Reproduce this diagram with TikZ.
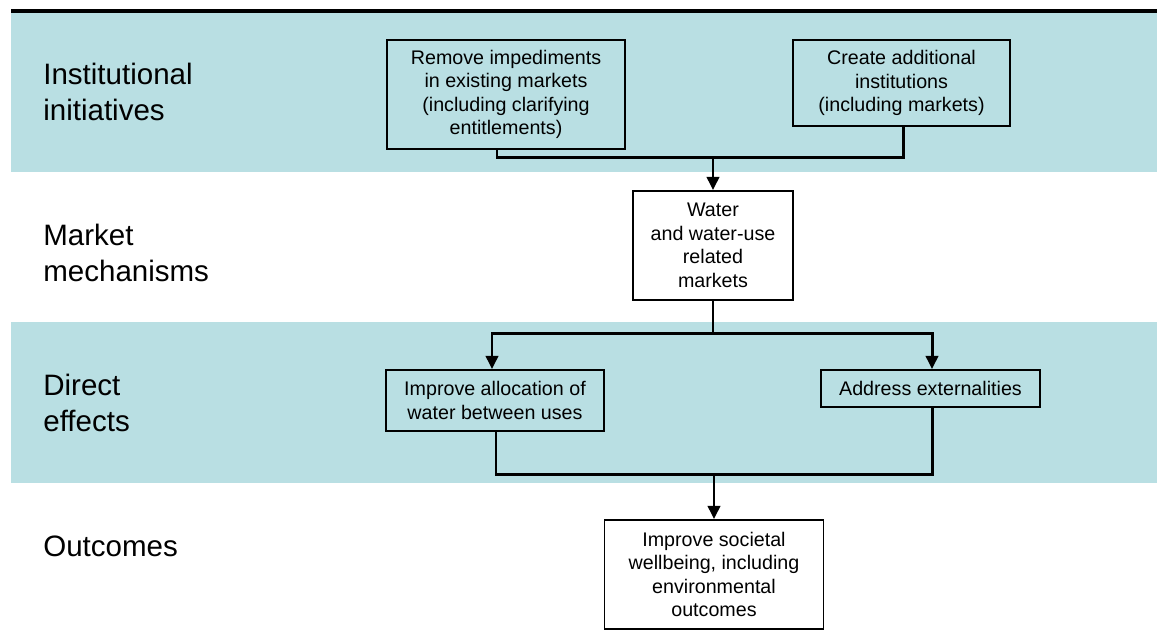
\documentclass[tikz,border=0pt]{standalone}
\usepackage{fontspec}
\setmainfont{Liberation Sans}
\usetikzlibrary{arrows.meta,positioning}
\definecolor{band}{RGB}{185,223,227}
\tikzset{
	box/.style={draw,line width=1.1pt,rectangle,align=center,fill=white,inner sep=2pt,font=\fontsize{11.2}{13.4}\selectfont},
	tier/.style={anchor=west,align=left,inner sep=0pt,font=\fontsize{16.8}{20}\selectfont},
	link/.style={line width=1.7pt},
	-tri/.style={line width=1.7pt,-{Triangle[length=7.5pt,width=7pt]}}
}
\begin{document}
\begin{tikzpicture}[x=0.02cm,y=-0.02cm]
	\useasboundingbox (0,0) rectangle (1157,637);
	\fill[band] (11,12) rectangle (1157,172);
	\fill[band] (11,322) rectangle (1157,483);
	\draw[line width=1.8pt] (11,11) -- (1157,11);
	\node[tier] (inst) at (43,92) {Institutional\\initiatives};
	\node[tier] (mech) at (43,253) {Market\\mechanisms};
	\node[tier] (dir) at (43,403) {Direct\\effects};
	\node[tier] (outc) at (43,546) {Outcomes};
	\node[box,minimum width=4.76cm,minimum height=2.18cm,fill=band] (remove) at (506,94.5) {Remove impediments\\in existing markets\\(including clarifying\\entitlements)};
	\node[box,minimum width=4.34cm,minimum height=1.72cm,fill=band] (create) at (901.5,83) {Create additional\\institutions\\(including markets)};
	\node[box,minimum width=3.2cm,minimum height=2.18cm] (water) at (713,245.5) {Water\\and water-use\\related\\markets};
	\node[box,minimum width=4.36cm,minimum height=1.22cm,fill=band] (alloc) at (495,400.5) {Improve allocation of\\water between uses};
	\node[box,minimum width=4.38cm,minimum height=0.74cm,fill=band] (ext) at (930.5,388.5) {Address externalities};
	\node[box,minimum width=4.38cm,minimum height=2.18cm] (well) at (714,574.5) {Improve societal\\wellbeing, including\\environmental\\outcomes};
	\coordinate (j1) at (713,157);
	\coordinate (j2) at (713,333);
	\coordinate (j3) at (714,474);
	\draw[link] (remove.south -| 497,0) |- (j1);
	\draw[link] (create.south -| 903,0) |- (j1);
	\draw[-tri] (j1) -- (water);
	\draw[link] (water) -- (j2);
	\draw[-tri] (j2) -| (alloc.north -| 492,0);
	\draw[-tri] (j2) -| (ext.north -| 932,0);
	\draw[link] (alloc.south -| 496,0) |- (j3);
	\draw[link] (ext.south -| 932,0) |- (j3);
	\draw[-tri] (j3) -- (well);
\end{tikzpicture}
\end{document}
